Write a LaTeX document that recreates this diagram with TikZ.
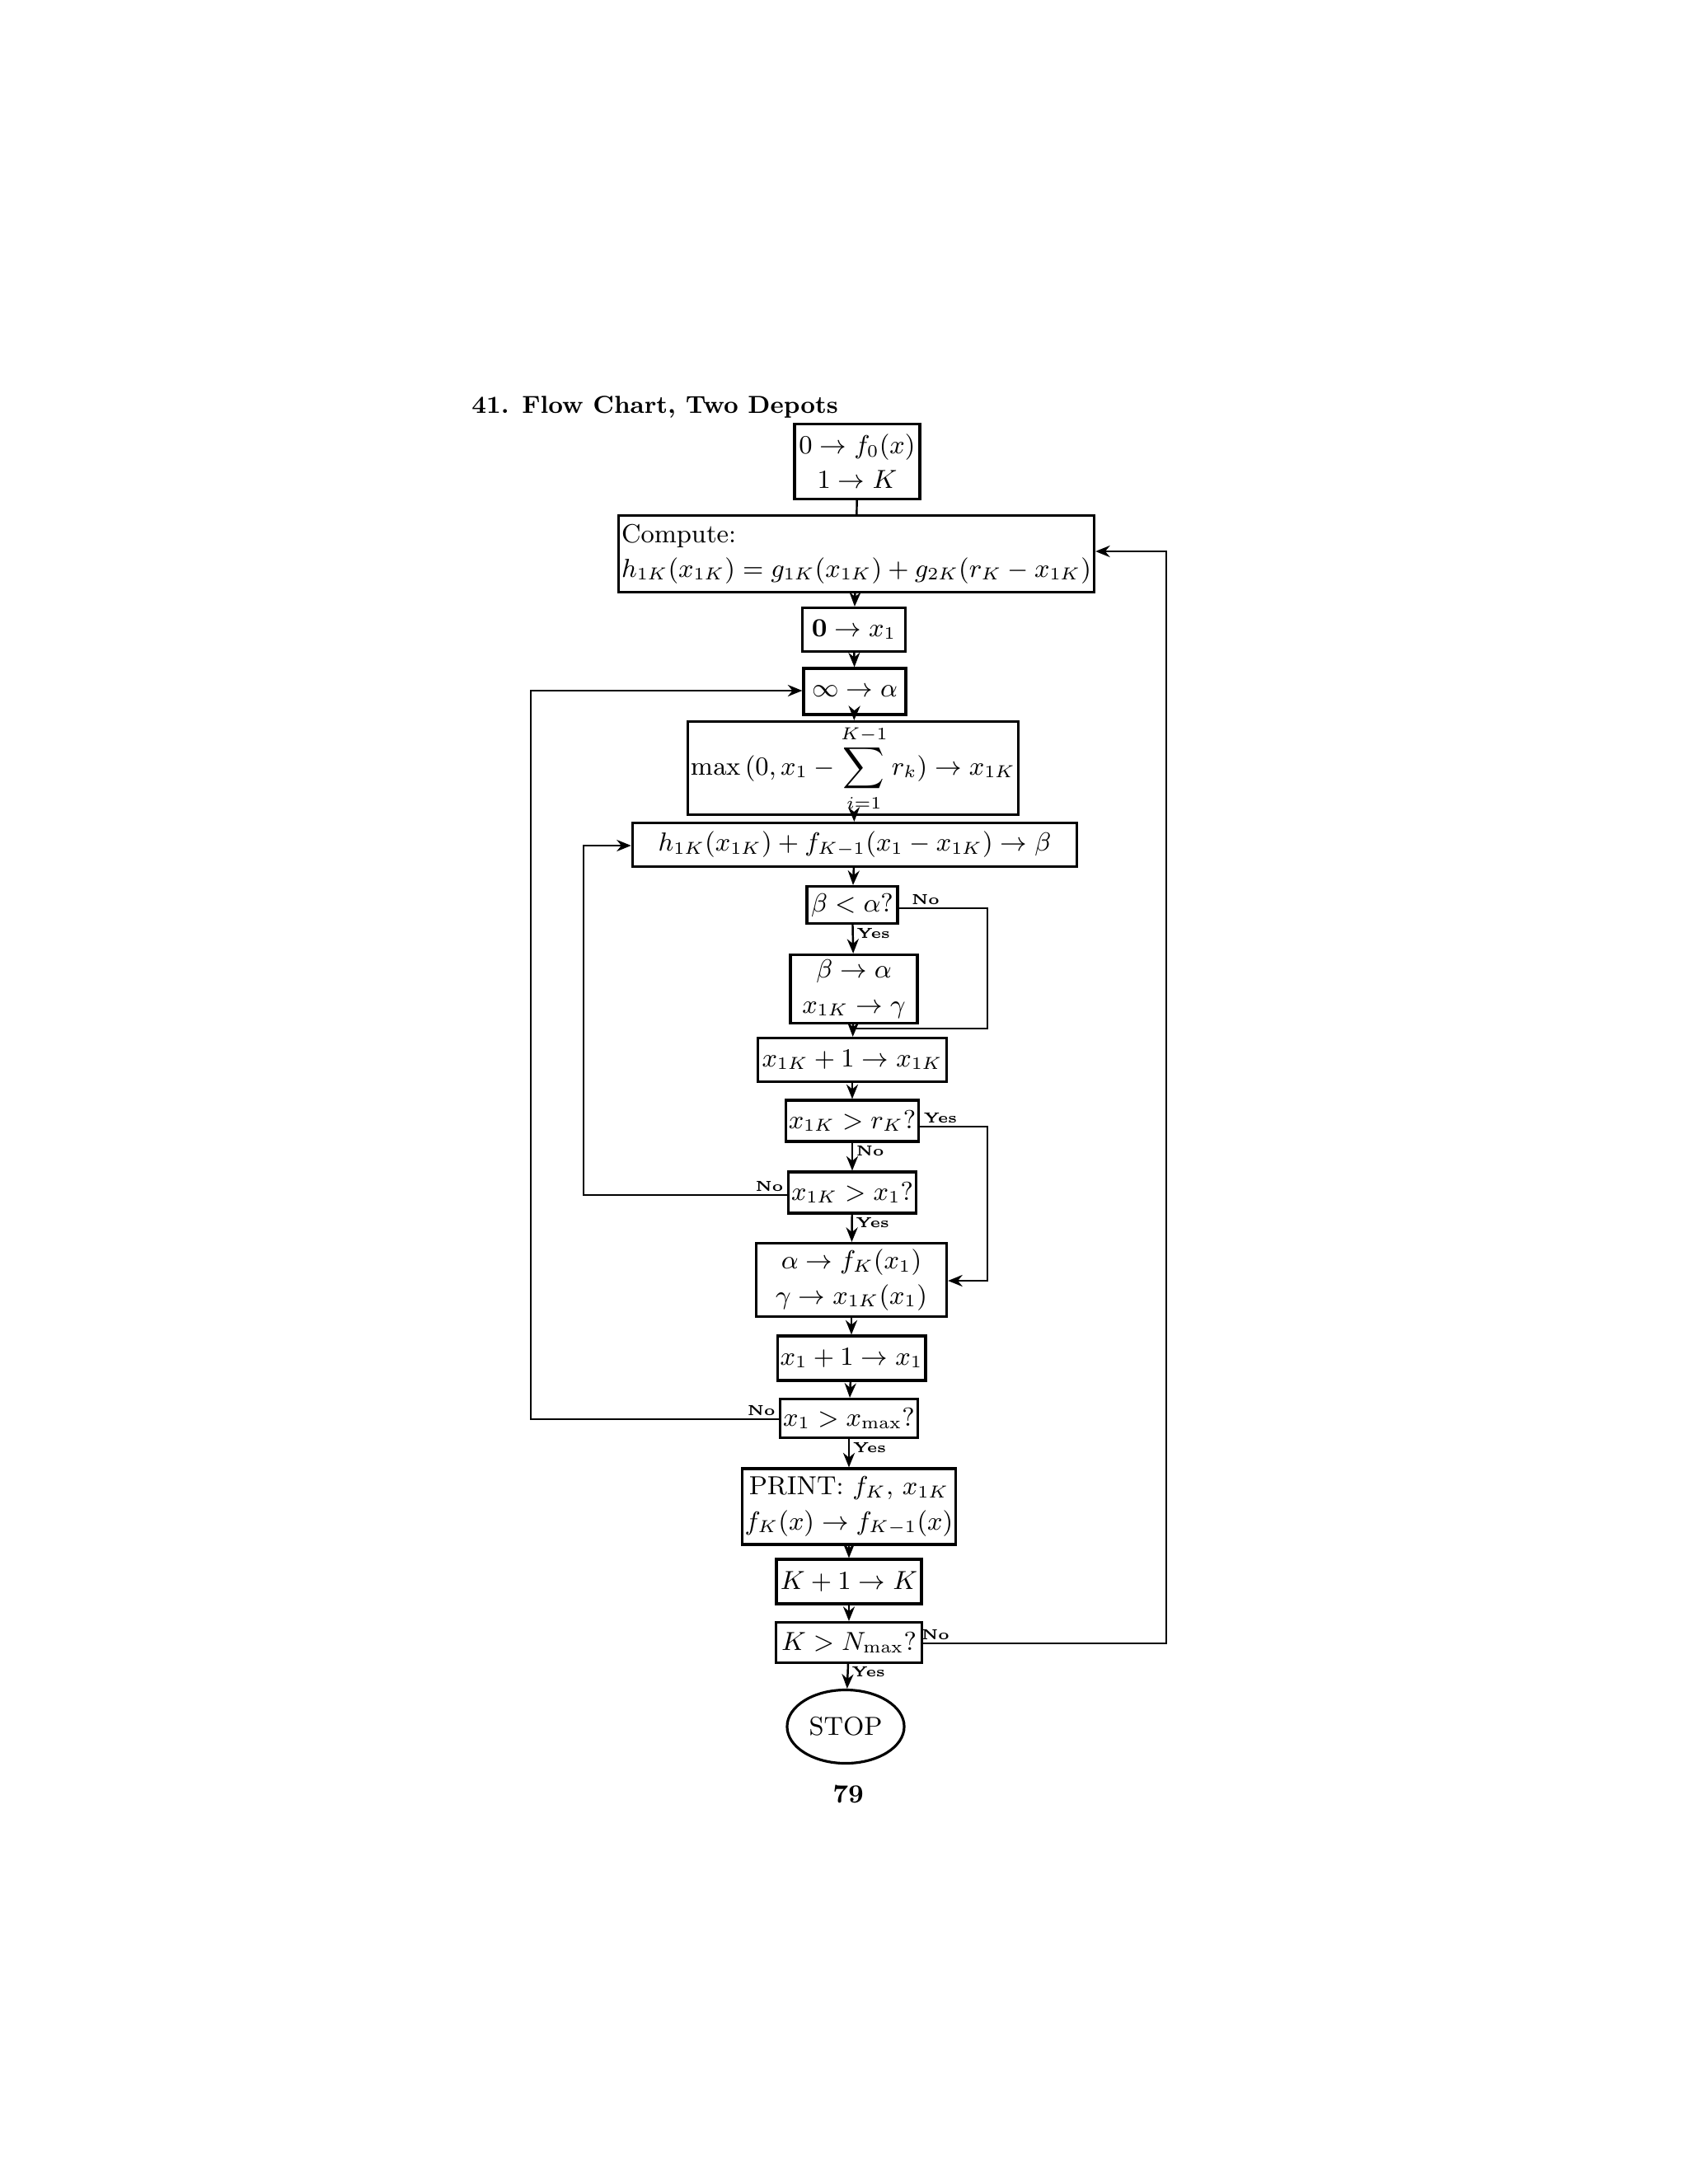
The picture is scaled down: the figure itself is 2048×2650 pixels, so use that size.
\documentclass[tikz,border=0pt]{standalone}
\usetikzlibrary{arrows.meta,shapes.geometric,calc}
\begin{document}
\begin{tikzpicture}[x=0.01cm,y=-0.01cm,
  box/.style={draw,line width=0.9pt,inner sep=1pt,align=center,font=\fontsize{9}{12}\selectfont},
  lab/.style={font=\fontsize{5}{6}\selectfont\bfseries,inner sep=1pt},
  ar/.style={-{Stealth[length=5pt,width=4pt]},line width=0.7pt},
  ln/.style={line width=0.7pt}]
\useasboundingbox (0,0) rectangle (2048,2650);
\node[font=\fontsize{8.5}{10}\selectfont\bfseries,anchor=west] (title) at (560,494) {41. Flow Chart, Two Depots};
\node[box,minimum width=1.52cm,minimum height=0.91cm] (init) at (1040,560) {$0\rightarrow f_0(x)$\\$1\rightarrow K$};
\node[box,minimum width=5.42cm,minimum height=0.93cm,align=left] (comp) at (1039,672) {Compute:\\$h_{1K}(x_{1K})=g_{1K}(x_{1K})+g_{2K}(r_K-x_{1K})$};
\node[box,minimum width=1.25cm,minimum height=0.53cm] (x0) at (1036,764) {$\mathbf{0}\rightarrow x_1$};
\node[box,minimum width=1.24cm,minimum height=0.56cm] (inf) at (1037,839) {$\infty\rightarrow\alpha$};
\node[box,minimum width=3.71cm,minimum height=0.89cm] (mx) at (1035,932) {$\displaystyle\max\,(0,x_1-\sum_{i=1}^{K-1}r_k)\rightarrow x_{1K}$};
\node[box,minimum width=5.39cm,minimum height=0.53cm] (hb) at (1037,1025) {$h_{1K}(x_{1K})+f_{K-1}(x_1-x_{1K})\rightarrow\beta$};
\node[box,minimum width=1.10cm,minimum height=0.45cm] (q1) at (1034,1098) {$\beta<\alpha$?};
\node[box,minimum width=1.54cm,minimum height=0.83cm] (ba) at (1036,1200) {$\beta\rightarrow\alpha$\\$x_{1K}\rightarrow\gamma$};
\node[box,minimum width=2.29cm,minimum height=0.53cm] (inc) at (1034,1286) {$x_{1K}+1\rightarrow x_{1K}$};
\node[box,minimum width=1.50cm,minimum height=0.50cm] (q2) at (1034,1360) {$x_{1K}>r_K$?};
\node[box,minimum width=1.50cm,minimum height=0.50cm] (q3) at (1034,1447) {$x_{1K}>x_1$?};
\node[box,minimum width=2.31cm,minimum height=0.89cm] (af) at (1033,1553) {$\alpha\rightarrow f_K(x_1)$\\$\gamma\rightarrow x_{1K}(x_1)$};
\node[box,minimum width=1.76cm,minimum height=0.54cm] (inc1) at (1033,1648) {$x_1+1\rightarrow x_1$};
\node[box,minimum width=1.57cm,minimum height=0.47cm] (q4) at (1030,1721) {$x_1>x_{\max}$?};
\node[box,minimum width=2.57cm,minimum height=0.92cm] (pr) at (1030,1828) {PRINT: $f_K,\,x_{1K}$\\$f_K(x)\rightarrow f_{K-1}(x)$};
\node[box,minimum width=1.76cm,minimum height=0.54cm] (kk) at (1030,1919) {$K+1\rightarrow K$};
\node[box,minimum width=1.77cm,minimum height=0.49cm] (q5) at (1030,1993) {$K>N_{\max}$?};
\node[draw,ellipse,line width=0.9pt,minimum width=1.42cm,minimum height=0.89cm,inner sep=0pt,font=\fontsize{9}{11}\selectfont] (stop) at (1026,2095) {STOP};
\node[font=\fontsize{9}{11}\selectfont\bfseries] (pg) at (1029,2177) {79};
% straight flow
\draw[ln] (init) -- (comp);
\draw[ar] (comp) -- (x0);
\draw[ar] (x0) -- (inf);
\draw[ar] (inf) -- (mx);
\draw[ar] (mx) -- (hb);
\draw[ar] (hb) -- (q1);
\draw[ar] (q1) -- node[lab,right,pos=0.3]{Yes} (ba);
\draw[ar] (ba) -- (inc);
\draw[ar] (inc) -- (q2);
\draw[ar] (q2) -- node[lab,right,pos=0.3]{No} (q3);
\draw[ar] (q3) -- node[lab,right,pos=0.3]{Yes} (af);
\draw[ar] (af) -- (inc1);
\draw[ar] (inc1) -- (q4);
\draw[ar] (q4) -- node[lab,right,pos=0.3]{Yes} (pr);
\draw[ar] (pr) -- (kk);
\draw[ar] (kk) -- (q5);
\draw[ar] (q5) -- node[lab,right,pos=0.3]{Yes} (stop);
% branches
\coordinate (n1a) at (1198,1102);
\coordinate (n1b) at (1198,1248);
\coordinate (n1c) at (1036,1248);
\draw[ln] (q1.east |- n1a) -- node[lab,above,pos=0.3]{No} (n1a) -- (n1b) -- (n1c);
\coordinate (y2a) at (1198,1367);
\coordinate (y2b) at (1198,1554);
\draw[ar] (q2.east |- y2a) -- node[lab,above,pos=0.3]{Yes} (y2a) -- (y2b) -- (af.east |- y2b);
\coordinate (n3a) at (708,1450);
\coordinate (n3b) at (708,1026);
\draw[ar] (q3.west |- n3a) -- node[lab,above left,pos=0]{No} (n3a) -- (n3b) -- (hb.west |- n3b);
\coordinate (n4a) at (644,1722);
\coordinate (n4b) at (644,838);
\draw[ar] (q4.west |- n4a) -- node[lab,above left,pos=0]{No} (n4a) -- (n4b) -- (inf.west |- n4b);
\coordinate (n5a) at (1415,1994);
\coordinate (n5b) at (1415,669);
\draw[ar] (q5.east |- n5a) -- node[lab,above,pos=0.05]{No} (n5a) -- (n5b) -- (comp.east |- n5b);
\end{tikzpicture}
\end{document}
